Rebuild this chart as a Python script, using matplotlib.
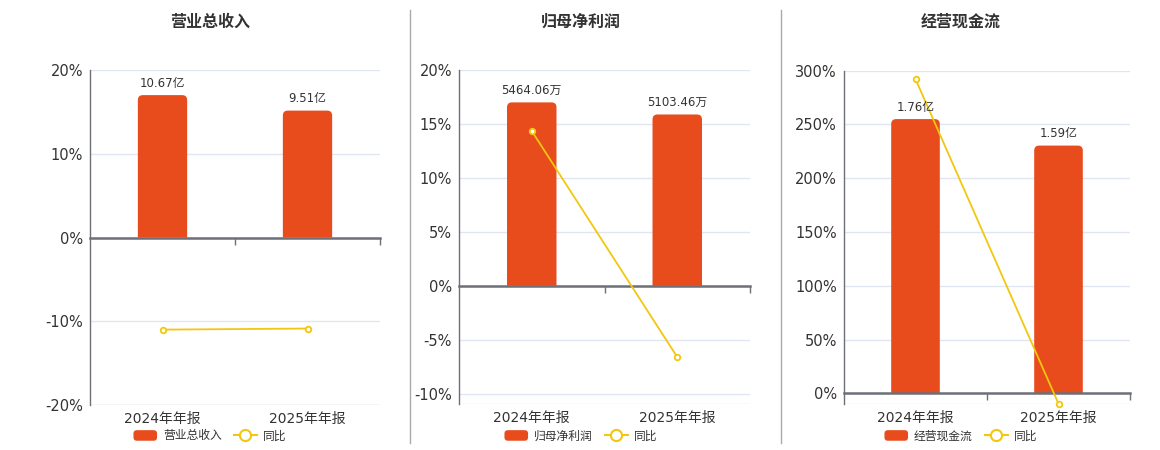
import numpy as np
import matplotlib.pyplot as plt
from matplotlib.patches import FancyBboxPatch, PathPatch, Patch
from matplotlib.path import Path
from matplotlib.lines import Line2D
from matplotlib.legend_handler import HandlerPatch

plt.rcParams['font.family'] = ['DejaVu Sans', 'Noto Sans CJK SC']

periods = ['2024年年报', '2025年年报']
titles = ['营业总收入', '归母净利润', '经营现金流']
revenue = [10.67, 9.51]
profit = [5464.06, 5103.46]
cashflow = [1.76, 1.59]
revenue_labels = ['10.67亿', '9.51亿']
profit_labels = ['5464.06万', '5103.46万']
cashflow_labels = ['1.76亿', '1.59亿']
revenue_yoy = [-11.0, -10.87]
profit_yoy = [14.35, -6.60]
cashflow_yoy = [292.2, -9.66]

BAR = '#E84B1C'
LINE = '#F2C70F'
AXIS = '#6E7079'
GRID = '#E0E6F1'
TXT = '#333333'

W, H = 1160, 450
fig = plt.figure(figsize=(W / 100, H / 100), dpi=100)

# pixel boxes: left, right, top, bottom
boxes = [(90, 380, 70, 405), (459, 750, 70, 404), (844, 1130, 70.7, 404.3)]
ylims = [(-20, 20), (-10.95, 20), (-10.2, 300)]
yticks = [np.arange(-20, 21, 10), np.arange(-10, 21, 5), np.arange(0, 301, 50)]
title_x = [210, 581, 961]

panels = [
    (revenue, revenue_labels, revenue_yoy),
    (profit, profit_labels, profit_yoy),
    (cashflow, cashflow_labels, cashflow_yoy),
]


def round_top_bar(x0, w, h, rx, ry):
    # bar outline with the two top corners rounded
    verts = [(x0, 0), (x0, h - ry), (x0, h), (x0 + rx, h),
             (x0 + w - rx, h), (x0 + w, h), (x0 + w, h - ry),
             (x0 + w, 0), (x0, 0)]
    codes = [Path.MOVETO, Path.LINETO, Path.CURVE3, Path.CURVE3,
             Path.LINETO, Path.CURVE3, Path.CURVE3, Path.LINETO, Path.CLOSEPOLY]
    return Path(verts, codes)


class RoundBox(HandlerPatch):
    def create_artists(self, legend, orig_handle, xd, yd, width, height, fontsize, trans):
        p = FancyBboxPatch((-xd, -yd), width, height,
                           boxstyle='round,pad=0,rounding_size=2.5',
                           fc=orig_handle.get_facecolor(), ec='none', transform=trans)
        return [p]


for k, (vals, labels, yoy) in enumerate(panels):
    l, r, t, b = boxes[k]
    ax = fig.add_axes([l / W, 1 - b / H, (r - l) / W, (b - t) / H])
    ylo, yhi = ylims[k]
    ax.set_xlim(-0.5, 1.5)
    ax.set_ylim(ylo, yhi)

    x_per_px = 2.0 / (r - l)
    y_per_px = (yhi - ylo) / (b - t)
    w = 0.34
    scale = 0.85 * yhi / max(vals)
    x = np.arange(len(vals))
    for i, v in enumerate(vals):
        h = v * scale
        ax.add_patch(PathPatch(round_top_bar(x[i] - w / 2, w, h, 5 * x_per_px, 5 * y_per_px),
                               fc=BAR, ec='none', zorder=2))
        ax.annotate(labels[i], (x[i], h), xytext=(0, 4), textcoords='offset points',
                    ha='center', va='bottom', fontsize=8.5, color=TXT, zorder=5)

    ax.plot(x, yoy, color=LINE, lw=1.3, marker='o', ms=4, mfc='white', mec=LINE,
            mew=1.3, zorder=4, clip_on=False)

    ax.set_yticks(yticks[k])
    ax.set_yticklabels([f'{v:g}%' for v in yticks[k]])
    ax.yaxis.grid(True, color=GRID, lw=1, zorder=0)
    ax.set_axisbelow(True)
    ax.axhline(ylo, color=GRID, lw=1, zorder=0)
    ax.tick_params(axis='y', length=0, pad=5, labelsize=10.5, labelcolor=TXT)

    ax.spines['top'].set_visible(False)
    ax.spines['right'].set_visible(False)
    ax.spines['left'].set_color(AXIS)
    ax.spines['left'].set_linewidth(1)
    ax.spines['bottom'].set_position(('data', 0))
    ax.spines['bottom'].set_color(AXIS)
    ax.spines['bottom'].set_linewidth(1.8)
    ax.spines['bottom'].set_zorder(3)
    ax.set_xticks([0.5, 1.5])
    ax.set_xticklabels([])
    ax.tick_params(axis='x', length=5, width=1, color=AXIS, direction='out')

    for i, p in enumerate(periods):
        ax.annotate(p, (x[i], 0), xycoords=('data', 'axes fraction'), xytext=(0, -5),
                    textcoords='offset points', ha='center', va='top',
                    fontsize=10, color=TXT)

    fig.text(title_x[k] / W, 1 - 22 / H, titles[k], ha='center', va='center',
             fontsize=11.5, fontweight='bold', color=TXT)

    bar_handle = Patch(fc=BAR, ec='none', label=titles[k])
    handles = [bar_handle,
               Line2D([], [], color=LINE, lw=1.5, marker='o', ms=8, mfc='white',
                      mec=LINE, mew=1.5, label='同比')]
    fig.legend(handles=handles, loc='center', bbox_to_anchor=(title_x[k] / W, 1 - 436 / H),
               ncol=2, frameon=False, fontsize=8.5, handlelength=2.0, handleheight=1.0,
               columnspacing=1.0, handletextpad=0.5, labelcolor=TXT,
               handler_map={Patch: RoundBox()})

for sx in (410, 780.5):
    fig.add_artist(Line2D([sx / W, sx / W], [1 - 10 / H, 1 - 443 / H],
                          color='#AAAAAA', lw=1))

fig.savefig('out.png', dpi=100)
